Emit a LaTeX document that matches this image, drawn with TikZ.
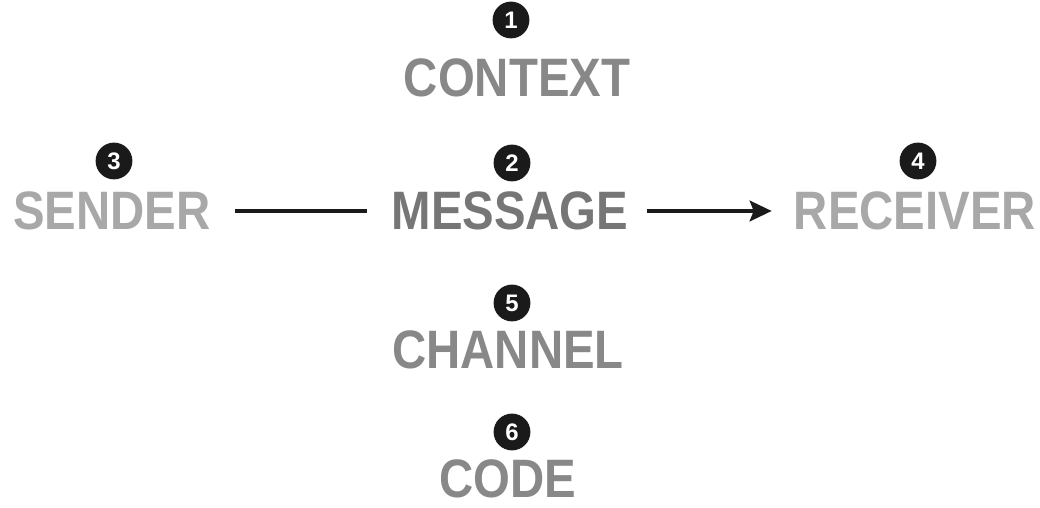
\documentclass[tikz,border=0pt]{standalone}
\usepackage{fontspec}
\usepackage{xcolor}
\usetikzlibrary{arrows.meta}
\setmainfont{Liberation Sans}
\newfontfamily\wordfont[FakeStretch=0.875]{Liberation Sans}

\begin{document}
\begin{tikzpicture}[word/.style={inner sep=0pt,font=\wordfont\bfseries\fontsize{38.5}{40}\selectfont},
  numdot/.style={circle,fill=dotblack,inner sep=0pt,minimum size=0.92cm,text=white,font=\bfseries\fontsize{17}{18}\selectfont},
  link/.style={line width=2.3pt,draw=dotblack}]
\definecolor{dotblack}{HTML}{1A1A1A}
\definecolor{pale}{HTML}{A8A8A8}
\definecolor{mid}{HTML}{888888}
\definecolor{dark}{HTML}{767676}
\useasboundingbox (0,0) rectangle (26,12.7);
  \foreach \nm/\txt/\clr/\x/\y in {context/CONTEXT/mid/12.925/10.75,message/MESSAGE/dark/12.75/7.425,
    sender/SENDER/pale/2.8/7.425,receiver/RECEIVER/pale/22.875/7.425,
    channel/CHANNEL/mid/12.7/3.95,code/CODE/mid/12.7/0.72}
  {  \node [word,text=\clr] (\nm) at (\x,\y) {\txt};}
  \foreach \nm/\num/\x/\y in {context/1/12.775/12.2,message/2/12.8/8.625,sender/3/2.85/8.675,
    receiver/4/22.95/8.675,channel/5/12.8/5.125,code/6/12.8/1.9}
  {  \node [numdot] (\nm-dot) at (\x,\y) {\num};}
\draw [link,shorten <=0.6cm,shorten >=0.6cm] (sender.east) -- (message.west);
\draw [link,-{Stealth[length=0.55cm,width=0.52cm,inset=0.1cm]},shorten <=0.45cm,shorten >=0.55cm] (message.east) -- (receiver.west);
\end{tikzpicture}
\end{document}
